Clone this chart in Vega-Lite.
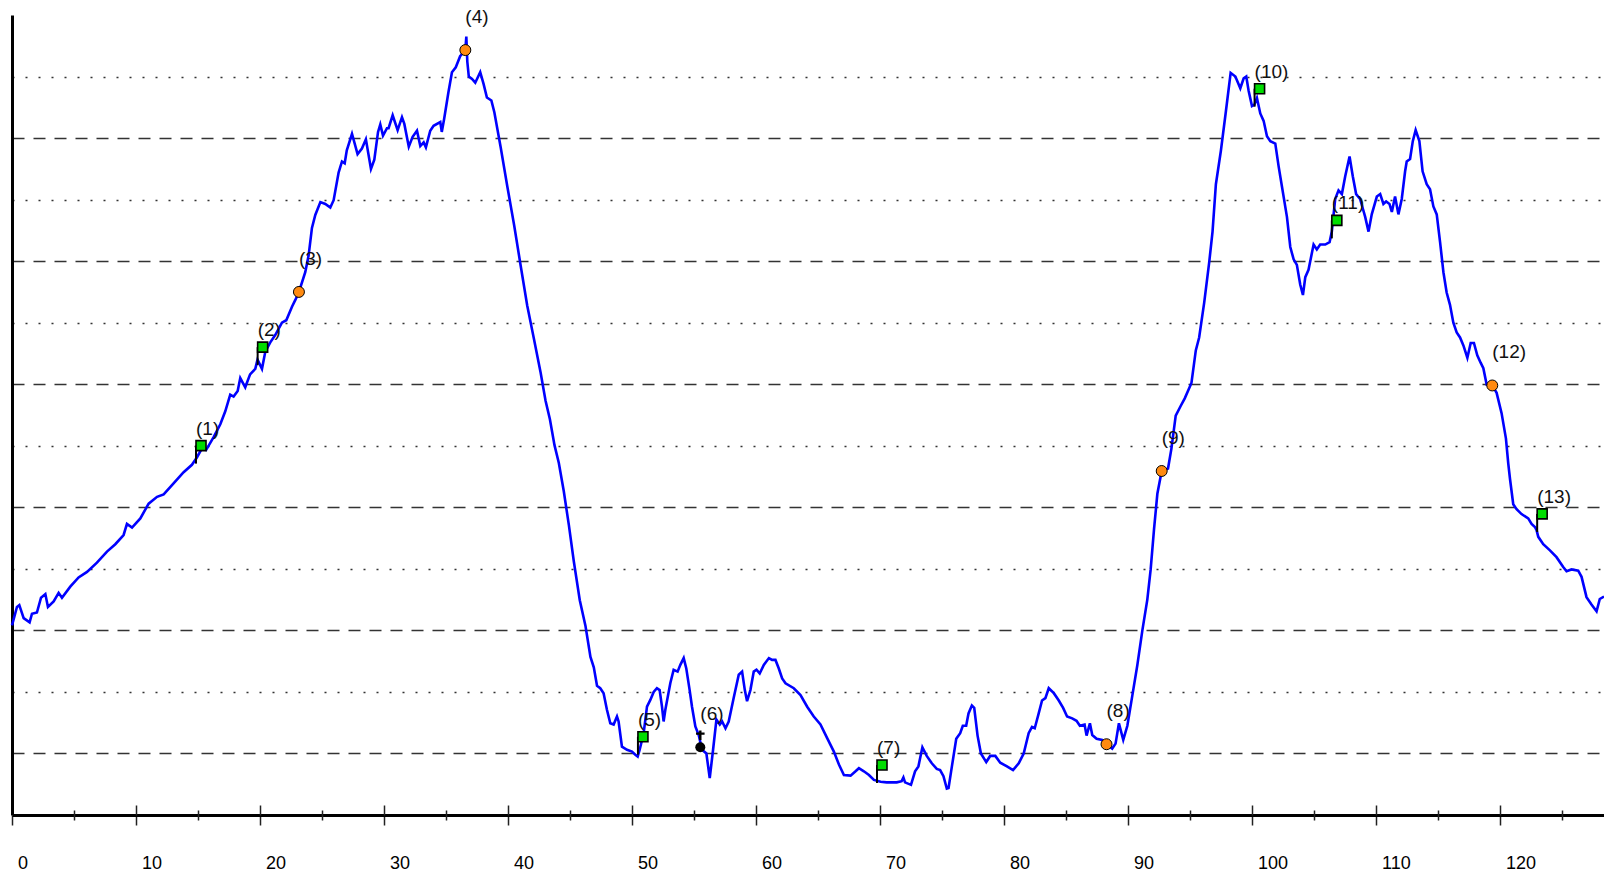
{
  "$schema": "https://vega.github.io/schema/vega-lite/v6.json",
  "width": 1592,
  "height": 800,
  "autosize": {"type": "none"},
  "padding": {"left": 12, "top": 15, "right": 0, "bottom": 57},
  "background": "white",
  "config": {"view": {"stroke": null}, "font": "Liberation Sans"},
  "datasets": {
    "profile": [
      {"d":0,"e":308},{"d":0.4,"e":338},{"d":0.59,"e":341},{"d":0.94,"e":320},{"d":1.42,"e":313},{"d":1.61,"e":327},{"d":2.01,"e":329},{"d":2.34,"e":353},{"d":2.69,"e":359},{"d":2.9,"e":338},{"d":3.36,"e":347},{"d":3.76,"e":361},{"d":4.03,"e":353},{"d":4.7,"e":371},{"d":5.37,"e":386},{"d":6.05,"e":395},{"d":6.85,"e":410},{"d":7.66,"e":428},{"d":8.33,"e":440},{"d":9.0,"e":455},{"d":9.27,"e":473},{"d":9.68,"e":467},{"d":10.35,"e":482},{"d":11.02,"e":506},{"d":11.7,"e":517},{"d":12.23,"e":521},{"d":13.03,"e":539},{"d":13.84,"e":557},{"d":14.51,"e":569},{"d":14.91,"e":581},{"d":15.3,"e":595},{"d":15.65,"e":593},{"d":16.26,"e":614},{"d":16.8,"e":635},{"d":17.2,"e":656},{"d":17.6,"e":683},{"d":17.87,"e":680},{"d":18.2,"e":689},{"d":18.41,"e":710},{"d":18.81,"e":695},{"d":19.2,"e":716},{"d":19.62,"e":725},{"d":19.8,"e":740},{"d":20.16,"e":725},{"d":20.43,"e":753},{"d":20.83,"e":768},{"d":21.23,"e":780},{"d":21.77,"e":800},{"d":22.12,"e":804},{"d":22.58,"e":826},{"d":22.85,"e":837},{"d":23.14,"e":850},{"d":23.65,"e":882},{"d":23.92,"e":909},{"d":24.19,"e":954},{"d":24.46,"e":975},{"d":24.87,"e":996},{"d":25.27,"e":993},{"d":25.67,"e":987},{"d":25.94,"e":999},{"d":26.34,"e":1044},{"d":26.61,"e":1062},{"d":26.83,"e":1059},{"d":27.0,"e":1080},{"d":27.42,"e":1107},{"d":27.87,"e":1074},{"d":28.22,"e":1083},{"d":28.54,"e":1098},{"d":28.95,"e":1050},{"d":29.22,"e":1065},{"d":29.52,"e":1110},{"d":29.7,"e":1122},{"d":29.92,"e":1104},{"d":30.24,"e":1116},{"d":30.37,"e":1116},{"d":30.7,"e":1137},{"d":31.1,"e":1113},{"d":31.45,"e":1134},{"d":31.64,"e":1123},{"d":32.0,"e":1086},{"d":32.31,"e":1102},{"d":32.66,"e":1112},{"d":32.93,"e":1087},{"d":33.2,"e":1093},{"d":33.38,"e":1085},{"d":33.73,"e":1112},{"d":34.0,"e":1120},{"d":34.54,"e":1126},{"d":34.66,"e":1110},{"d":34.85,"e":1131},{"d":35.2,"e":1175},{"d":35.48,"e":1207},{"d":35.79,"e":1215},{"d":36.14,"e":1233},{"d":36.56,"e":1243},{"d":36.64,"e":1265},{"d":36.72,"e":1224},{"d":36.84,"e":1200},{"d":37.1,"e":1196},{"d":37.36,"e":1190},{"d":37.76,"e":1207},{"d":38.03,"e":1188},{"d":38.3,"e":1166},{"d":38.66,"e":1161},{"d":38.9,"e":1142},{"d":39.41,"e":1085},{"d":39.95,"e":1021},{"d":40.5,"e":958},{"d":41.02,"e":893},{"d":41.55,"e":828},{"d":42.09,"e":774},{"d":42.63,"e":719},{"d":43.03,"e":673},{"d":43.38,"e":643},{"d":43.75,"e":601},{"d":44.1,"e":572},{"d":44.5,"e":526},{"d":44.91,"e":471},{"d":45.31,"e":412},{"d":45.79,"e":349},{"d":46.25,"e":307},{"d":46.65,"e":257},{"d":46.92,"e":240},{"d":47.18,"e":210},{"d":47.44,"e":206},{"d":47.71,"e":198},{"d":47.98,"e":171},{"d":48.25,"e":149},{"d":48.52,"e":147},{"d":48.79,"e":160},{"d":48.92,"e":152},{"d":49.19,"e":111},{"d":49.6,"e":106},{"d":50.0,"e":103},{"d":50.27,"e":98},{"d":50.46,"e":95},{"d":50.62,"e":106},{"d":50.94,"e":133},{"d":51.21,"e":176},{"d":51.48,"e":187},{"d":51.75,"e":200},{"d":52.01,"e":206},{"d":52.23,"e":203},{"d":52.42,"e":176},{"d":52.55,"e":152},{"d":52.69,"e":171},{"d":53.09,"e":214},{"d":53.36,"e":236},{"d":53.68,"e":233},{"d":53.9,"e":244},{"d":54.17,"e":255},{"d":54.38,"e":238},{"d":54.65,"e":203},{"d":54.84,"e":176},{"d":55.11,"e":144},{"d":55.38,"e":130},{"d":55.65,"e":106},{"d":56.0,"e":100},{"d":56.27,"e":60},{"d":56.54,"e":106},{"d":56.81,"e":155},{"d":57.08,"e":147},{"d":57.27,"e":152},{"d":57.54,"e":141},{"d":57.8,"e":152},{"d":58.2,"e":190},{"d":58.61,"e":228},{"d":58.88,"e":233},{"d":59.1,"e":203},{"d":59.28,"e":185},{"d":59.55,"e":203},{"d":59.82,"e":233},{"d":60.04,"e":236},{"d":60.3,"e":230},{"d":60.63,"e":244},{"d":61.04,"e":255},{"d":61.3,"e":252},{"d":61.57,"e":252},{"d":61.84,"e":238},{"d":62.11,"e":222},{"d":62.38,"e":214},{"d":63.05,"e":206},{"d":63.59,"e":195},{"d":64.13,"e":176},{"d":64.66,"e":160},{"d":65.2,"e":147},{"d":65.74,"e":125},{"d":66.28,"e":103},{"d":66.69,"e":82},{"d":67.09,"e":65},{"d":67.63,"e":64},{"d":68.03,"e":71},{"d":68.3,"e":76},{"d":68.7,"e":71},{"d":69.11,"e":65},{"d":69.51,"e":57},{"d":70.05,"e":54},{"d":70.54,"e":53},{"d":71.35,"e":53},{"d":71.75,"e":55},{"d":71.89,"e":61},{"d":72.02,"e":53},{"d":72.5,"e":49},{"d":72.83,"e":71},{"d":73.1,"e":79},{"d":73.42,"e":110},{"d":73.77,"e":96},{"d":74.18,"e":84},{"d":74.58,"e":75},{"d":74.85,"e":73},{"d":75.12,"e":63},{"d":75.39,"e":43},{"d":75.53,"e":44},{"d":75.8,"e":79},{"d":76.15,"e":124},{"d":76.47,"e":133},{"d":76.68,"e":145},{"d":76.95,"e":145},{"d":77.14,"e":165},{"d":77.41,"e":178},{"d":77.6,"e":174},{"d":77.87,"e":129},{"d":78.14,"e":100},{"d":78.57,"e":86},{"d":78.89,"e":96},{"d":79.3,"e":96},{"d":79.7,"e":85},{"d":80.24,"e":79},{"d":80.73,"e":73},{"d":81.19,"e":84},{"d":81.59,"e":100},{"d":81.99,"e":133},{"d":82.26,"e":143},{"d":82.48,"e":141},{"d":82.8,"e":165},{"d":83.07,"e":186},{"d":83.34,"e":190},{"d":83.61,"e":206},{"d":84.02,"e":198},{"d":84.42,"e":186},{"d":84.77,"e":174},{"d":85.09,"e":160},{"d":85.5,"e":157},{"d":85.85,"e":153},{"d":86.12,"e":145},{"d":86.5,"e":147},{"d":86.66,"e":129},{"d":86.93,"e":149},{"d":87.12,"e":130},{"d":87.47,"e":124},{"d":87.92,"e":122},{"d":88.27,"e":115},{"d":88.73,"e":108},{"d":89.0,"e":116},{"d":89.27,"e":149},{"d":89.62,"e":122},{"d":89.95,"e":145},{"d":90.35,"e":194},{"d":90.75,"e":243},{"d":91.16,"e":300},{"d":91.56,"e":350},{"d":91.83,"e":399},{"d":92.1,"e":464},{"d":92.37,"e":522},{"d":92.72,"e":559},{"d":93.23,"e":563},{"d":93.5,"e":595},{"d":93.85,"e":649},{"d":94.26,"e":665},{"d":94.58,"e":677},{"d":95.12,"e":702},{"d":95.47,"e":755},{"d":95.74,"e":776},{"d":96.15,"e":833},{"d":96.55,"e":898},{"d":96.82,"e":948},{"d":97.09,"e":1025},{"d":97.49,"e":1079},{"d":97.9,"e":1144},{"d":98.28,"e":1206},{"d":98.66,"e":1200},{"d":99.06,"e":1181},{"d":99.33,"e":1197},{"d":99.54,"e":1200},{"d":99.73,"e":1177},{"d":100.0,"e":1152},{"d":100.19,"e":1154},{"d":100.4,"e":1165},{"d":100.67,"e":1140},{"d":100.94,"e":1128},{"d":101.21,"e":1103},{"d":101.48,"e":1095},{"d":101.88,"e":1091},{"d":102.15,"e":1054},{"d":102.42,"e":1021},{"d":102.82,"e":972},{"d":103.09,"e":923},{"d":103.36,"e":903},{"d":103.62,"e":894},{"d":103.89,"e":862},{"d":104.11,"e":845},{"d":104.3,"e":874},{"d":104.56,"e":886},{"d":104.97,"e":927},{"d":105.23,"e":919},{"d":105.5,"e":927},{"d":105.91,"e":927},{"d":106.26,"e":931},{"d":106.44,"e":948},{"d":106.71,"e":1001},{"d":106.98,"e":1015},{"d":107.25,"e":1009},{"d":107.52,"e":1038},{"d":107.87,"e":1070},{"d":108.13,"e":1038},{"d":108.4,"e":1009},{"d":108.72,"e":1001},{"d":109.13,"e":972},{"d":109.4,"e":948},{"d":109.66,"e":976},{"d":110.07,"e":1005},{"d":110.34,"e":1009},{"d":110.6,"e":993},{"d":110.82,"e":997},{"d":111.09,"e":993},{"d":111.28,"e":980},{"d":111.54,"e":1005},{"d":111.81,"e":976},{"d":112.08,"e":1001},{"d":112.35,"e":1046},{"d":112.48,"e":1062},{"d":112.75,"e":1066},{"d":112.97,"e":1095},{"d":113.2,"e":1113},{"d":113.5,"e":1095},{"d":113.76,"e":1046},{"d":114.09,"e":1025},{"d":114.36,"e":1017},{"d":114.63,"e":989},{"d":114.9,"e":976},{"d":115.17,"e":931},{"d":115.44,"e":882},{"d":115.7,"e":849},{"d":115.97,"e":829},{"d":116.24,"e":800},{"d":116.51,"e":784},{"d":116.78,"e":776},{"d":117.05,"e":763},{"d":117.37,"e":743},{"d":117.64,"e":767},{"d":117.9,"e":767},{"d":118.17,"e":747},{"d":118.44,"e":735},{"d":118.66,"e":726},{"d":118.93,"e":699},{"d":119.38,"e":698},{"d":119.73,"e":686},{"d":120.13,"e":653},{"d":120.48,"e":612},{"d":120.67,"e":571},{"d":120.81,"e":546},{"d":121.07,"e":505},{"d":121.34,"e":497},{"d":121.74,"e":489},{"d":122.28,"e":482},{"d":122.55,"e":473},{"d":122.82,"e":468},{"d":122.95,"e":463},{"d":123.09,"e":452},{"d":123.49,"e":440},{"d":124.03,"e":430},{"d":124.56,"e":419},{"d":125.1,"e":403},{"d":125.37,"e":396},{"d":125.77,"e":399},{"d":126.31,"e":397},{"d":126.58,"e":387},{"d":126.98,"e":354},{"d":127.38,"e":342},{"d":127.79,"e":331},{"d":128.05,"e":351},{"d":128.39,"e":355}
    ],
    "pts": [
      {"label":"(1)","kind":"flag","d":14.84,"e":571},
      {"label":"(2)","kind":"flag","d":19.81,"e":731},
      {"label":"(3)","kind":"circle","d":23.14,"e":850},
      {"label":"(4)","kind":"circle","d":36.56,"e":1243},
      {"label":"(5)","kind":"flag","d":50.48,"e":98},
      {"label":"(6)","kind":"church","d":55.51,"e":110},
      {"label":"(7)","kind":"flag","d":69.76,"e":52},
      {"label":"(8)","kind":"circle","d":88.27,"e":115},
      {"label":"(9)","kind":"circle","d":92.72,"e":559},
      {"label":"(10)","kind":"flag","d":100.21,"e":1151},
      {"label":"(11)","kind":"flag","d":106.44,"e":937},
      {"label":"(12)","kind":"circle","d":119.38,"e":698},
      {"label":"(13)","kind":"flag","d":123.0,"e":460}
    ]
  },
  "encoding": {
    "y": {
      "field": "e",
      "type": "quantitative",
      "scale": {"domain": [0, 1300], "nice": false, "zero": true},
      "axis": {
        "title": null,
        "labels": false,
        "ticks": false,
        "domain": true,
        "domainColor": "#000000",
        "domainWidth": 3,
        "grid": true,
        "values": [100, 200, 300, 400, 500, 600, 700, 800, 900, 1000, 1100, 1200],
        "gridColor": "#333333",
        "gridWidth": 1.3,
        "gridDash": {"condition": {"test": "datum.value % 200 === 100", "value": [12, 9]}, "value": [2, 11]}
      }
    }
  },
  "layer": [
    {
      "data": {"name": "profile"},
      "mark": {"type": "line", "color": "#0000ff", "strokeWidth": 2.6},
      "encoding": {
        "x": {
          "field": "d",
          "type": "quantitative",
          "scale": {"domain": [0, 128.39], "nice": false, "zero": false},
          "axis": {
            "orient": "bottom",
            "title": null,
            "grid": false,
            "domain": true,
            "domainColor": "#000000",
            "domainWidth": 3,
            "values": [0, 10, 20, 30, 40, 50, 60, 70, 80, 90, 100, 110, 120],
            "ticks": true,
            "tickSize": 10,
            "tickWidth": 1.5,
            "tickColor": "#222222",
            "labels": true,
            "labelFont": "Liberation Sans",
            "labelFontSize": 18,
            "labelColor": "#000000",
            "labelAlign": "left",
            "labelBaseline": "alphabetic",
            "labelOffset": 5.5,
            "labelPadding": 43,
            "labelFlush": false,
            "labelOverlap": false
          }
        }
      }
    },
    {
      "data": {"name": "pts"},
      "transform": [{"filter": "datum.kind === 'flag'"}],
      "mark": {"type": "rule", "color": "#000000", "strokeWidth": 2, "y2Offset": -18},
      "encoding": {
        "x": {
          "field": "d",
          "type": "quantitative",
          "axis": {
            "orient": "bottom",
            "offset": -10,
            "title": null,
            "grid": false,
            "domain": false,
            "labels": false,
            "values": [10, 20, 30, 40, 50, 60, 70, 80, 90, 100, 110, 120],
            "ticks": true,
            "tickSize": 10,
            "tickWidth": 1.5,
            "tickColor": "#222222"
          }
        },
        "y2": {"field": "e"}
      }
    },
    {
      "data": {"name": "pts"},
      "transform": [{"filter": "datum.kind === 'flag'"}],
      "mark": {"type": "point", "shape": "square", "filled": true, "fill": "#00dd00", "stroke": "#000000", "strokeWidth": 1.6, "size": 100, "opacity": 1, "xOffset": 5, "yOffset": -18},
      "encoding": {
        "x": {
          "field": "d",
          "type": "quantitative",
          "axis": {
            "orient": "bottom",
            "offset": -5,
            "title": null,
            "grid": false,
            "domain": false,
            "labels": false,
            "values": [5, 15, 25, 35, 45, 55, 65, 75, 85, 95, 105, 115, 125],
            "ticks": true,
            "tickSize": 10,
            "tickWidth": 1.5,
            "tickColor": "#222222"
          }
        }
      }
    },
    {
      "data": {"name": "pts"},
      "transform": [{"filter": "datum.kind === 'circle'"}],
      "mark": {"type": "point", "shape": "circle", "filled": true, "fill": "#ff8a10", "stroke": "#000000", "strokeWidth": 1, "size": 120, "opacity": 1},
      "encoding": {"x": {"field": "d", "type": "quantitative", "axis": null}}
    },
    {
      "data": {"name": "pts"},
      "transform": [{"filter": "datum.kind === 'church'"}],
      "mark": {"type": "point", "shape": "circle", "filled": true, "fill": "#000000", "stroke": null, "size": 100, "opacity": 1},
      "encoding": {"x": {"field": "d", "type": "quantitative", "axis": null}}
    },
    {
      "data": {"name": "pts"},
      "transform": [{"filter": "datum.kind === 'church'"}],
      "mark": {"type": "point", "shape": "M0,-1L0,1M-0.9,-0.35L0.9,-0.35", "filled": false, "stroke": "#000000", "strokeWidth": 2.4, "size": 90, "opacity": 1, "yOffset": -12},
      "encoding": {"x": {"field": "d", "type": "quantitative", "axis": null}}
    },
    {
      "data": {"name": "pts"},
      "transform": [{"filter": "datum.kind === 'flag'"}],
      "mark": {"type": "text", "font": "Liberation Sans", "fontSize": 19, "color": "#111111", "align": "left", "baseline": "alphabetic", "dx": 0, "dy": -29},
      "encoding": {"x": {"field": "d", "type": "quantitative", "axis": null}, "text": {"field": "label"}}
    },
    {
      "data": {"name": "pts"},
      "transform": [{"filter": "datum.kind !== 'flag'"}],
      "mark": {"type": "text", "font": "Liberation Sans", "fontSize": 19, "color": "#111111", "align": "left", "baseline": "alphabetic", "dx": 0, "dy": -27},
      "encoding": {"x": {"field": "d", "type": "quantitative", "axis": null}, "text": {"field": "label"}}
    }
  ],
  "resolve": {"axis": {"x": "independent"}}
}
